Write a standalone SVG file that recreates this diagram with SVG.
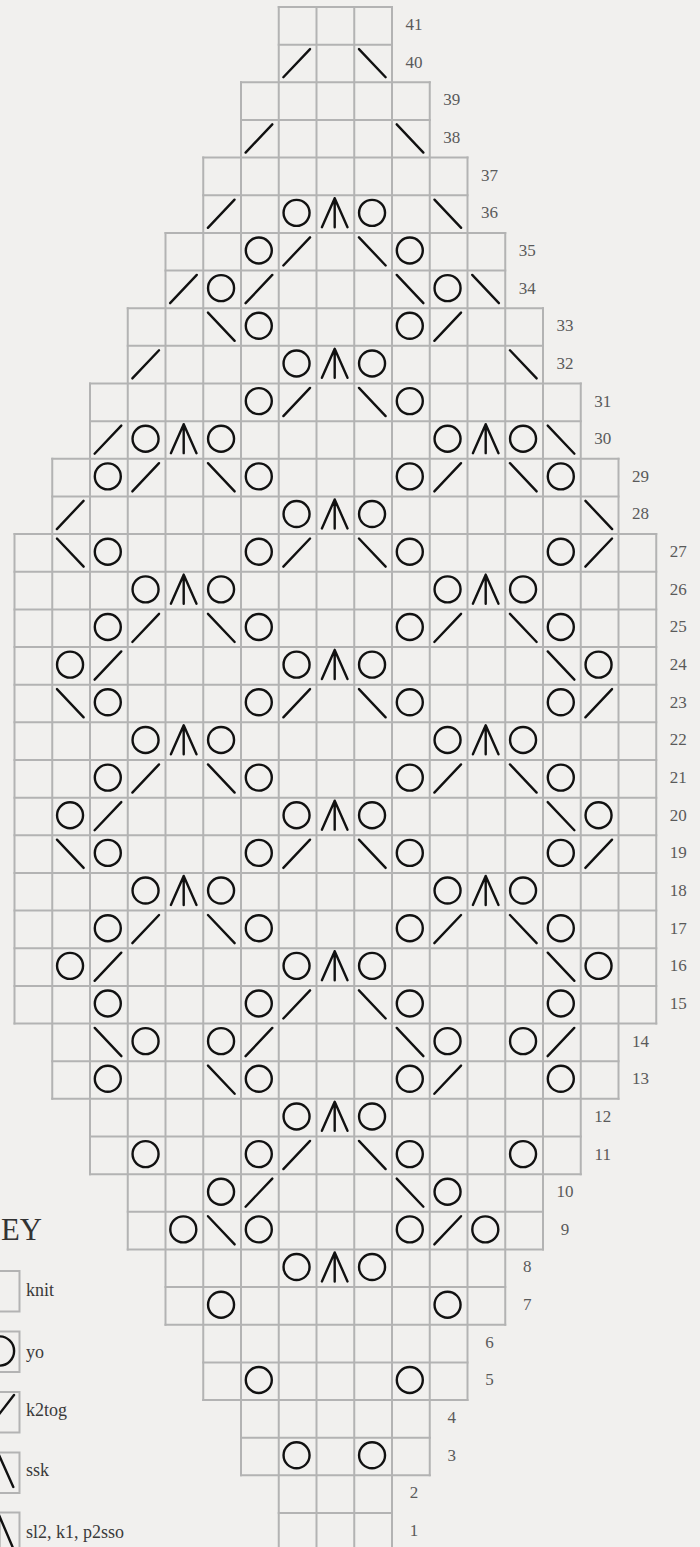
<svg xmlns="http://www.w3.org/2000/svg" xmlns:xlink="http://www.w3.org/1999/xlink" width="700" height="1547" viewBox="0 0 700 1547">
<style>
.g{stroke:#b3b3b3;stroke-width:2;fill:none;stroke-linecap:square}
.s{stroke:#111;stroke-width:2.4;fill:none;stroke-linecap:round;stroke-linejoin:round}
.n{font-family:"Liberation Serif",serif;font-size:17px;fill:#5a5a5a;text-anchor:middle}
.k{font-family:"Liberation Serif",serif;font-size:18px;fill:#3a3a3a}
</style>
<defs>
<circle id="yo" class="s" cx="17.8" cy="17.6" r="13"/>
<line id="k2" class="s" x1="4.6" y1="32.6" x2="31.3" y2="4.4"/>
<line id="ss" class="s" x1="4.7" y1="4.4" x2="31.4" y2="32.6"/>
<path id="sl" class="s" d="M5.4 32L18.2 3L31 32M18.2 3V32"/>
</defs>
<rect x="0" y="0" width="700" height="1547" fill="#f1f0ee"/>
<g id="grid" class="g">
<path d="M278.75 7H392M278.75 44.65H392M241 82.3H429.75M241 119.95H429.75M203.25 157.6H467.5M203.25 195.25H467.5M165.5 232.9H505.25M165.5 270.55H505.25M127.75 308.2H543M127.75 345.85H543M90 383.5H580.75M90 421.15H580.75M52.25 458.8H618.5M52.25 496.45H618.5M14.5 534.1H656.25M14.5 571.75H656.25M14.5 609.4H656.25M14.5 647.05H656.25M14.5 684.7H656.25M14.5 722.35H656.25M14.5 760H656.25M14.5 797.65H656.25M14.5 835.3H656.25M14.5 872.95H656.25M14.5 910.6H656.25M14.5 948.25H656.25M14.5 985.9H656.25M14.5 1023.55H656.25M52.25 1061.2H618.5M52.25 1098.85H618.5M90 1136.5H580.75M90 1174.15H580.75M127.75 1211.8H543M127.75 1249.45H543M165.5 1287.1H505.25M165.5 1324.75H505.25M203.25 1362.4H467.5M203.25 1400.05H467.5M241 1437.7H429.75M241 1475.35H429.75M278.75 1513H392M278.75 1550.65H392"/>
<path d="M14.5 534.1V1023.55M656.25 534.1V1023.55M52.25 458.8V1098.85M618.5 458.8V1098.85M90 383.5V1174.15M580.75 383.5V1174.15M127.75 308.2V1249.45M543 308.2V1249.45M165.5 232.9V1324.75M505.25 232.9V1324.75M203.25 157.6V1400.05M467.5 157.6V1400.05M241 82.3V1475.35M429.75 82.3V1475.35M278.75 7V1550.65M316.5 7V1550.65M354.25 7V1550.65M392 7V1550.65"/>
</g>
<g id="stitches">
<g id="r40" transform="translate(0,44.65)"><use href="#k2" x="278.75"/><use href="#ss" x="354.25"/></g>
<g id="r38" transform="translate(0,119.95)"><use href="#k2" x="241"/><use href="#ss" x="392"/></g>
<g id="r36" transform="translate(0,195.25)"><use href="#k2" x="203.25"/><use href="#yo" x="278.75"/><use href="#sl" x="316.5"/><use href="#yo" x="354.25"/><use href="#ss" x="429.75"/></g>
<g id="r35" transform="translate(0,232.9)"><use href="#yo" x="241"/><use href="#k2" x="278.75"/><use href="#ss" x="354.25"/><use href="#yo" x="392"/></g>
<g id="r34" transform="translate(0,270.55)"><use href="#k2" x="165.5"/><use href="#yo" x="203.25"/><use href="#k2" x="241"/><use href="#ss" x="392"/><use href="#yo" x="429.75"/><use href="#ss" x="467.5"/></g>
<g id="r33" transform="translate(0,308.2)"><use href="#ss" x="203.25"/><use href="#yo" x="241"/><use href="#yo" x="392"/><use href="#k2" x="429.75"/></g>
<g id="r32" transform="translate(0,345.85)"><use href="#k2" x="127.75"/><use href="#yo" x="278.75"/><use href="#sl" x="316.5"/><use href="#yo" x="354.25"/><use href="#ss" x="505.25"/></g>
<g id="r31" transform="translate(0,383.5)"><use href="#yo" x="241"/><use href="#k2" x="278.75"/><use href="#ss" x="354.25"/><use href="#yo" x="392"/></g>
<g id="r30" transform="translate(0,421.15)"><use href="#k2" x="90"/><use href="#yo" x="127.75"/><use href="#sl" x="165.5"/><use href="#yo" x="203.25"/><use href="#yo" x="429.75"/><use href="#sl" x="467.5"/><use href="#yo" x="505.25"/><use href="#ss" x="543"/></g>
<g id="r29" transform="translate(0,458.8)"><use href="#yo" x="90"/><use href="#k2" x="127.75"/><use href="#ss" x="203.25"/><use href="#yo" x="241"/><use href="#yo" x="392"/><use href="#k2" x="429.75"/><use href="#ss" x="505.25"/><use href="#yo" x="543"/></g>
<g id="r28" transform="translate(0,496.45)"><use href="#k2" x="52.25"/><use href="#yo" x="278.75"/><use href="#sl" x="316.5"/><use href="#yo" x="354.25"/><use href="#ss" x="580.75"/></g>
<g id="r27" transform="translate(0,534.1)"><use href="#ss" x="52.25"/><use href="#yo" x="90"/><use href="#yo" x="241"/><use href="#k2" x="278.75"/><use href="#ss" x="354.25"/><use href="#yo" x="392"/><use href="#yo" x="543"/><use href="#k2" x="580.75"/></g>
<g id="r26" transform="translate(0,571.75)"><use href="#yo" x="127.75"/><use href="#sl" x="165.5"/><use href="#yo" x="203.25"/><use href="#yo" x="429.75"/><use href="#sl" x="467.5"/><use href="#yo" x="505.25"/></g>
<g id="r25" transform="translate(0,609.4)"><use href="#yo" x="90"/><use href="#k2" x="127.75"/><use href="#ss" x="203.25"/><use href="#yo" x="241"/><use href="#yo" x="392"/><use href="#k2" x="429.75"/><use href="#ss" x="505.25"/><use href="#yo" x="543"/></g>
<g id="r24" transform="translate(0,647.05)"><use href="#yo" x="52.25"/><use href="#k2" x="90"/><use href="#yo" x="278.75"/><use href="#sl" x="316.5"/><use href="#yo" x="354.25"/><use href="#ss" x="543"/><use href="#yo" x="580.75"/></g>
<g id="r23" transform="translate(0,684.7)"><use href="#ss" x="52.25"/><use href="#yo" x="90"/><use href="#yo" x="241"/><use href="#k2" x="278.75"/><use href="#ss" x="354.25"/><use href="#yo" x="392"/><use href="#yo" x="543"/><use href="#k2" x="580.75"/></g>
<g id="r22" transform="translate(0,722.35)"><use href="#yo" x="127.75"/><use href="#sl" x="165.5"/><use href="#yo" x="203.25"/><use href="#yo" x="429.75"/><use href="#sl" x="467.5"/><use href="#yo" x="505.25"/></g>
<g id="r21" transform="translate(0,760)"><use href="#yo" x="90"/><use href="#k2" x="127.75"/><use href="#ss" x="203.25"/><use href="#yo" x="241"/><use href="#yo" x="392"/><use href="#k2" x="429.75"/><use href="#ss" x="505.25"/><use href="#yo" x="543"/></g>
<g id="r20" transform="translate(0,797.65)"><use href="#yo" x="52.25"/><use href="#k2" x="90"/><use href="#yo" x="278.75"/><use href="#sl" x="316.5"/><use href="#yo" x="354.25"/><use href="#ss" x="543"/><use href="#yo" x="580.75"/></g>
<g id="r19" transform="translate(0,835.3)"><use href="#ss" x="52.25"/><use href="#yo" x="90"/><use href="#yo" x="241"/><use href="#k2" x="278.75"/><use href="#ss" x="354.25"/><use href="#yo" x="392"/><use href="#yo" x="543"/><use href="#k2" x="580.75"/></g>
<g id="r18" transform="translate(0,872.95)"><use href="#yo" x="127.75"/><use href="#sl" x="165.5"/><use href="#yo" x="203.25"/><use href="#yo" x="429.75"/><use href="#sl" x="467.5"/><use href="#yo" x="505.25"/></g>
<g id="r17" transform="translate(0,910.6)"><use href="#yo" x="90"/><use href="#k2" x="127.75"/><use href="#ss" x="203.25"/><use href="#yo" x="241"/><use href="#yo" x="392"/><use href="#k2" x="429.75"/><use href="#ss" x="505.25"/><use href="#yo" x="543"/></g>
<g id="r16" transform="translate(0,948.25)"><use href="#yo" x="52.25"/><use href="#k2" x="90"/><use href="#yo" x="278.75"/><use href="#sl" x="316.5"/><use href="#yo" x="354.25"/><use href="#ss" x="543"/><use href="#yo" x="580.75"/></g>
<g id="r15" transform="translate(0,985.9)"><use href="#yo" x="90"/><use href="#yo" x="241"/><use href="#k2" x="278.75"/><use href="#ss" x="354.25"/><use href="#yo" x="392"/><use href="#yo" x="543"/></g>
<g id="r14" transform="translate(0,1023.55)"><use href="#ss" x="90"/><use href="#yo" x="127.75"/><use href="#yo" x="203.25"/><use href="#k2" x="241"/><use href="#ss" x="392"/><use href="#yo" x="429.75"/><use href="#yo" x="505.25"/><use href="#k2" x="543"/></g>
<g id="r13" transform="translate(0,1061.2)"><use href="#yo" x="90"/><use href="#ss" x="203.25"/><use href="#yo" x="241"/><use href="#yo" x="392"/><use href="#k2" x="429.75"/><use href="#yo" x="543"/></g>
<g id="r12" transform="translate(0,1098.85)"><use href="#yo" x="278.75"/><use href="#sl" x="316.5"/><use href="#yo" x="354.25"/></g>
<g id="r11" transform="translate(0,1136.5)"><use href="#yo" x="127.75"/><use href="#yo" x="241"/><use href="#k2" x="278.75"/><use href="#ss" x="354.25"/><use href="#yo" x="392"/><use href="#yo" x="505.25"/></g>
<g id="r10" transform="translate(0,1174.15)"><use href="#yo" x="203.25"/><use href="#k2" x="241"/><use href="#ss" x="392"/><use href="#yo" x="429.75"/></g>
<g id="r9" transform="translate(0,1211.8)"><use href="#yo" x="165.5"/><use href="#ss" x="203.25"/><use href="#yo" x="241"/><use href="#yo" x="392"/><use href="#k2" x="429.75"/><use href="#yo" x="467.5"/></g>
<g id="r8" transform="translate(0,1249.45)"><use href="#yo" x="278.75"/><use href="#sl" x="316.5"/><use href="#yo" x="354.25"/></g>
<g id="r7" transform="translate(0,1287.1)"><use href="#yo" x="203.25"/><use href="#yo" x="429.75"/></g>
<g id="r5" transform="translate(0,1362.4)"><use href="#yo" x="241"/><use href="#yo" x="392"/></g>
<g id="r3" transform="translate(0,1437.7)"><use href="#yo" x="278.75"/><use href="#yo" x="354.25"/></g>
</g>
<g id="labels" class="n">
<text x="414" y="30">41</text><text x="414" y="67.65">40</text>
<text x="451.75" y="105.3">39</text><text x="451.75" y="142.95">38</text>
<text x="489.5" y="180.6">37</text><text x="489.5" y="218.25">36</text>
<text x="527.25" y="255.9">35</text><text x="527.25" y="293.55">34</text>
<text x="565" y="331.2">33</text><text x="565" y="368.85">32</text>
<text x="602.75" y="406.5">31</text><text x="602.75" y="444.15">30</text>
<text x="640.5" y="481.8">29</text><text x="640.5" y="519.45">28</text>
<text x="678.25" y="557.1">27</text><text x="678.25" y="594.75">26</text>
<text x="678.25" y="632.4">25</text><text x="678.25" y="670.05">24</text>
<text x="678.25" y="707.7">23</text><text x="678.25" y="745.35">22</text>
<text x="678.25" y="783">21</text><text x="678.25" y="820.65">20</text>
<text x="678.25" y="858.3">19</text><text x="678.25" y="895.95">18</text>
<text x="678.25" y="933.6">17</text><text x="678.25" y="971.25">16</text>
<text x="678.25" y="1008.9">15</text>
<text x="640.5" y="1046.55">14</text><text x="640.5" y="1084.2">13</text>
<text x="602.75" y="1121.85">12</text><text x="602.75" y="1159.5">11</text>
<text x="565" y="1197.15">10</text><text x="565" y="1234.8">9</text>
<text x="527.25" y="1272.45">8</text><text x="527.25" y="1310.1">7</text>
<text x="489.5" y="1347.75">6</text><text x="489.5" y="1385.4">5</text>
<text x="451.75" y="1423.05">4</text><text x="451.75" y="1460.7">3</text>
<text x="414" y="1498.35">2</text><text x="414" y="1536">1</text>
</g>
<g id="key">
<text x="1" y="1240" font-family="Liberation Serif, serif" font-size="31" fill="#333" textLength="41" lengthAdjust="spacingAndGlyphs">EY</text>
<g id="key-knit"><rect class="g" x="-20.5" y="1271" width="40" height="40.5"/><text class="k" x="26" y="1296">knit</text></g>
<g id="key-yo"><rect class="g" x="-20.5" y="1331.5" width="40" height="40.5"/><circle class="s" cx="-0.5" cy="1351" r="14.6"/><text class="k" x="26" y="1358">yo</text></g>
<g id="key-k2tog"><rect class="g" x="-20.5" y="1392" width="40" height="40.5"/><line class="s" x1="-12" y1="1428.6" x2="14" y2="1395"/><text class="k" x="26" y="1416">k2tog</text></g>
<g id="key-ssk"><rect class="g" x="-20.5" y="1452.5" width="40" height="40.5"/><line class="s" x1="-1" y1="1455" x2="13.3" y2="1487"/><text class="k" x="26" y="1476">ssk</text></g>
<g id="key-sl2"><rect class="g" x="-20.5" y="1512.5" width="40" height="40.5"/><path class="s" d="M-15 1548L-1 1515L13 1548M-1 1515V1548"/><text class="k" x="26" y="1538">sl2, k1, p2sso</text></g>
</g>
</svg>
